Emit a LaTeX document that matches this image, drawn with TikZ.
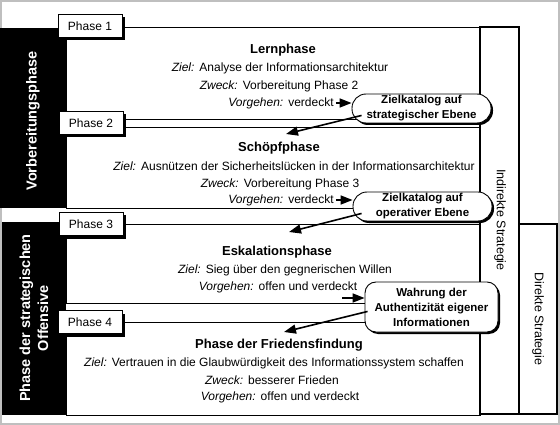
\documentclass[tikz,border=0pt]{standalone}
\usepackage{fontspec}
\setmainfont{Liberation Sans}
\usetikzlibrary{shadows,arrows.meta}
\begin{document}
\begin{tikzpicture}[x=1pt,y=-1pt,
  frame/.style={draw=black, line width=0.9pt},
  bar/.style={fill=black},
  stratbox/.style={draw=black, line width=2pt},
  phasebox/.style={draw=black, fill=white, line width=0.9pt, minimum width=64pt, minimum height=23pt, inner sep=0pt,
     font=\fontsize{12}{14}\selectfont,
     drop shadow={shadow xshift=3pt, shadow yshift=-3pt, fill=black, opacity=1}},
  head/.style={font=\fontsize{13}{15}\selectfont\bfseries, inner sep=0pt},
  body/.style={font=\fontsize{12}{14}\selectfont, inner sep=0pt},
  bartext/.style={text=white, font=\fontsize{14.5}{18}\selectfont\bfseries, rotate=90, align=center, inner sep=0pt},
  strattext/.style={font=\fontsize{12.5}{15}\selectfont, rotate=-90, inner sep=0pt},
  callout/.style={draw=black, fill=white, line width=0.9pt, rounded corners=14pt, align=center, inner sep=0pt,
     font=\fontsize{11.5}{15}\selectfont\bfseries,
     drop shadow={shadow xshift=2pt, shadow yshift=-2pt, fill=black, opacity=1}},
  arr/.style={line width=1.6pt, -{Triangle[length=12pt,width=9pt]}}
]
\useasboundingbox (0,0) rectangle (560,425);
\fill[white] (0,0) rectangle (560,425);
\draw[black!25, line width=2pt] (1,1) rectangle (559,424);

% phase frames
\draw[frame] (66,27) rectangle (480,119);
\draw[frame] (66,127) rectangle (480,208);
\draw[frame] (66,224) rectangle (480,303);
\draw[frame] (66,322) rectangle (480,415);

% black bars
\fill[bar] (0,28) rectangle (66,208);
\fill[bar] (2,222) rectangle (66,415);
\node[bartext] (vp) at (33,121) {Vorbereitungsphase};
\node[bartext] (so) at (34,318) {Phase der strategischen\\Offensive};

% strategy boxes
\draw[stratbox] (480,27) rectangle (519,414);
\draw[stratbox] (519,224) rectangle (557,414);
\node[strattext] (ind) at (500,220) {Indirekte Strategie};
\node[strattext] (dir) at (538,319) {Direkte Strategie};

% phase labels
\node[phasebox] (p1) at (90,26) {Phase 1};
\node[phasebox] (p2) at (91,123) {Phase 2};
\node[phasebox] (p3) at (91,224) {Phase 3};
\node[phasebox] (p4) at (90,322) {Phase 4};

% Lernphase
\node[head] (h1) at (283,50) {Lernphase};
\node[body] (z1) at (280,68) {\textit{Ziel:}\hspace{5pt}Analyse der Informationsarchitektur};
\node[body] (w1) at (279,86) {\textit{Zweck:}\hspace{5pt}Vorbereitung Phase 2};
\node[body] (v1) at (281,103) {\textit{Vorgehen:}\hspace{5pt}verdeckt};

% Schoepfphase
\node[head] (h2) at (279,148) {Schöpfphase};
\node[body] (z2) at (294,166) {\textit{Ziel:}\hspace{5pt}Ausnützen der Sicherheitslücken in der Informationsarchitektur};
\node[body] (w2) at (280,184) {\textit{Zweck:}\hspace{5pt}Vorbereitung Phase 3};
\node[body] (v2) at (281,200) {\textit{Vorgehen:}\hspace{5pt}verdeckt};

% Eskalationsphase
\node[head] (h3) at (277,252) {Eskalationsphase};
\node[body] (z3) at (285,270) {\textit{Ziel:}\hspace{5pt}Sieg über den gegnerischen Willen};
\node[body] (v3) at (278,287) {\textit{Vorgehen:}\hspace{5pt}offen und verdeckt};

% Friedensfindung
\node[head] (h4) at (279,345) {Phase der Friedensfindung};
\node[body] (z4) at (274,363) {\textit{Ziel:}\hspace{5pt}Vertrauen in die Glaubwürdigkeit des Informationssystem schaffen};
\node[body] (w4) at (272,380) {\textit{Zweck:}\hspace{5pt}besserer Frieden};
\node[body] (v4) at (280,397) {\textit{Vorgehen:}\hspace{5pt}offen und verdeckt};

% callouts
\node[callout, minimum width=139pt, minimum height=29pt] (c1) at (421.5,108.5) {Zielkatalog auf\\strategischer Ebene};
\node[callout, minimum width=139pt, minimum height=29pt] (c2) at (422.5,206.5) {Zielkatalog auf\\operativer Ebene};
\node[callout, rounded corners=11pt, minimum width=133pt, minimum height=50pt] (c3) at (431.5,307) {Wahrung der\\Authentizität eigener\\Informationen};

% arrow targets
\coordinate (t1) at (286,134);
\coordinate (t2) at (289,232);
\coordinate (t3) at (284,332);
\coordinate (s3) at (342,298);

% arrows
\draw[arr] ([xshift=2pt]v1.east) -- (v1.east -| c1.west);
\draw[arr] ([xshift=10pt,yshift=8pt]c1.south west) -- (t1);
\draw[arr] ([xshift=2pt]v2.east) -- (v2.east -| c2.west);
\draw[arr] ([xshift=9pt,yshift=8pt]c2.south west) -- (t2);
\draw[arr] (s3) -- (s3 -| c3.west);
\draw[arr] ([xshift=3pt,yshift=21pt]c3.south west) -- (t3);
\end{tikzpicture}
\end{document}
